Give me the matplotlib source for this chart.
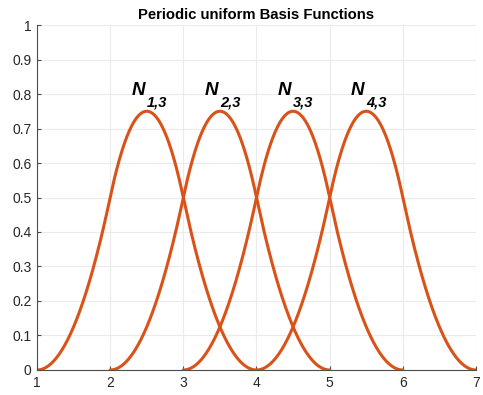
import numpy as np
import matplotlib
matplotlib.use("Agg")
import matplotlib.pyplot as plt

plt.rcParams['font.family'] = ['Liberation Sans', 'DejaVu Sans']

# periodic uniform knot vector, order k = 3 (quadratic)
knots = [1, 2, 3, 4, 5, 6, 7]
order = 3
label_names = ['N', 'N', 'N', 'N']
label_subs = ['1,3', '2,3', '3,3', '4,3']
label_x = [2.29, 3.29, 4.29, 5.29]
label_y = [0.797, 0.797, 0.797, 0.797]
sub_x = [2.50, 3.50, 4.50, 5.50]
sub_y = [0.765, 0.765, 0.765, 0.765]
xticks = [1, 2, 3, 4, 5, 6, 7]
yticks = [0, 0.1, 0.2, 0.3, 0.4, 0.5, 0.6, 0.7, 0.8, 0.9, 1]
ytick_labels = ['0', '0.1', '0.2', '0.3', '0.4', '0.5', '0.6', '0.7', '0.8', '0.9', '1']


def basis(i, k, t, x):
    """Cox-de Boor recursion for the B-spline basis N_{i,k}."""
    if k == 1:
        return np.where((x >= t[i]) & (x < t[i + 1]), 1.0, 0.0)
    out = np.zeros_like(x)
    d1 = t[i + k - 1] - t[i]
    d2 = t[i + k] - t[i + 1]
    if d1 > 0:
        out += (x - t[i]) / d1 * basis(i, k - 1, t, x)
    if d2 > 0:
        out += (t[i + k] - x) / d2 * basis(i + 1, k - 1, t, x)
    return out


fig = plt.figure(figsize=(4.83, 3.95), dpi=100)
ax = fig.add_axes([0.0766, 0.0633, 0.9089, 0.8734])

color = '#D95319'
n_funcs = len(knots) - order
for i in range(n_funcs):
    lo, hi = knots[i], knots[i + order]
    x = np.linspace(lo, hi - 1e-9, 400)
    y = basis(i, order, knots, x)
    x = np.append(x, hi)
    y = np.append(y, 0.0)
    ax.plot(x, y, color=color, lw=2.2, solid_capstyle='round')

for name, sub, lx, ly, sx, sy in zip(label_names, label_subs, label_x, label_y, sub_x, sub_y):
    ax.text(lx, ly, name, fontsize=13.5, fontweight='bold', fontstyle='italic',
            ha='left', va='baseline', color='black')
    ax.text(sx, sy, sub, fontsize=10.5, fontweight='bold', fontstyle='italic',
            ha='left', va='baseline', color='black')

ax.set_xlim(1, 7)
ax.set_ylim(0, 1)
ax.set_xticks(xticks)
ax.set_yticks(yticks)
ax.set_yticklabels(ytick_labels)
ax.grid(True, color='#ebebeb', lw=0.8)
ax.set_axisbelow(True)
for side in ['top', 'right']:
    ax.spines[side].set_visible(False)
for side in ['left', 'bottom']:
    ax.spines[side].set_color('#4d4d4d')
    ax.spines[side].set_linewidth(0.8)
ax.tick_params(colors='#4d4d4d', labelcolor='#262626', labelsize=10, length=3,
               width=0.8, direction='in', pad=4)
ax.set_title('Periodic uniform Basis Functions', fontsize=10.7, fontweight='bold', pad=4)

fig.savefig('out.png', dpi=100)
